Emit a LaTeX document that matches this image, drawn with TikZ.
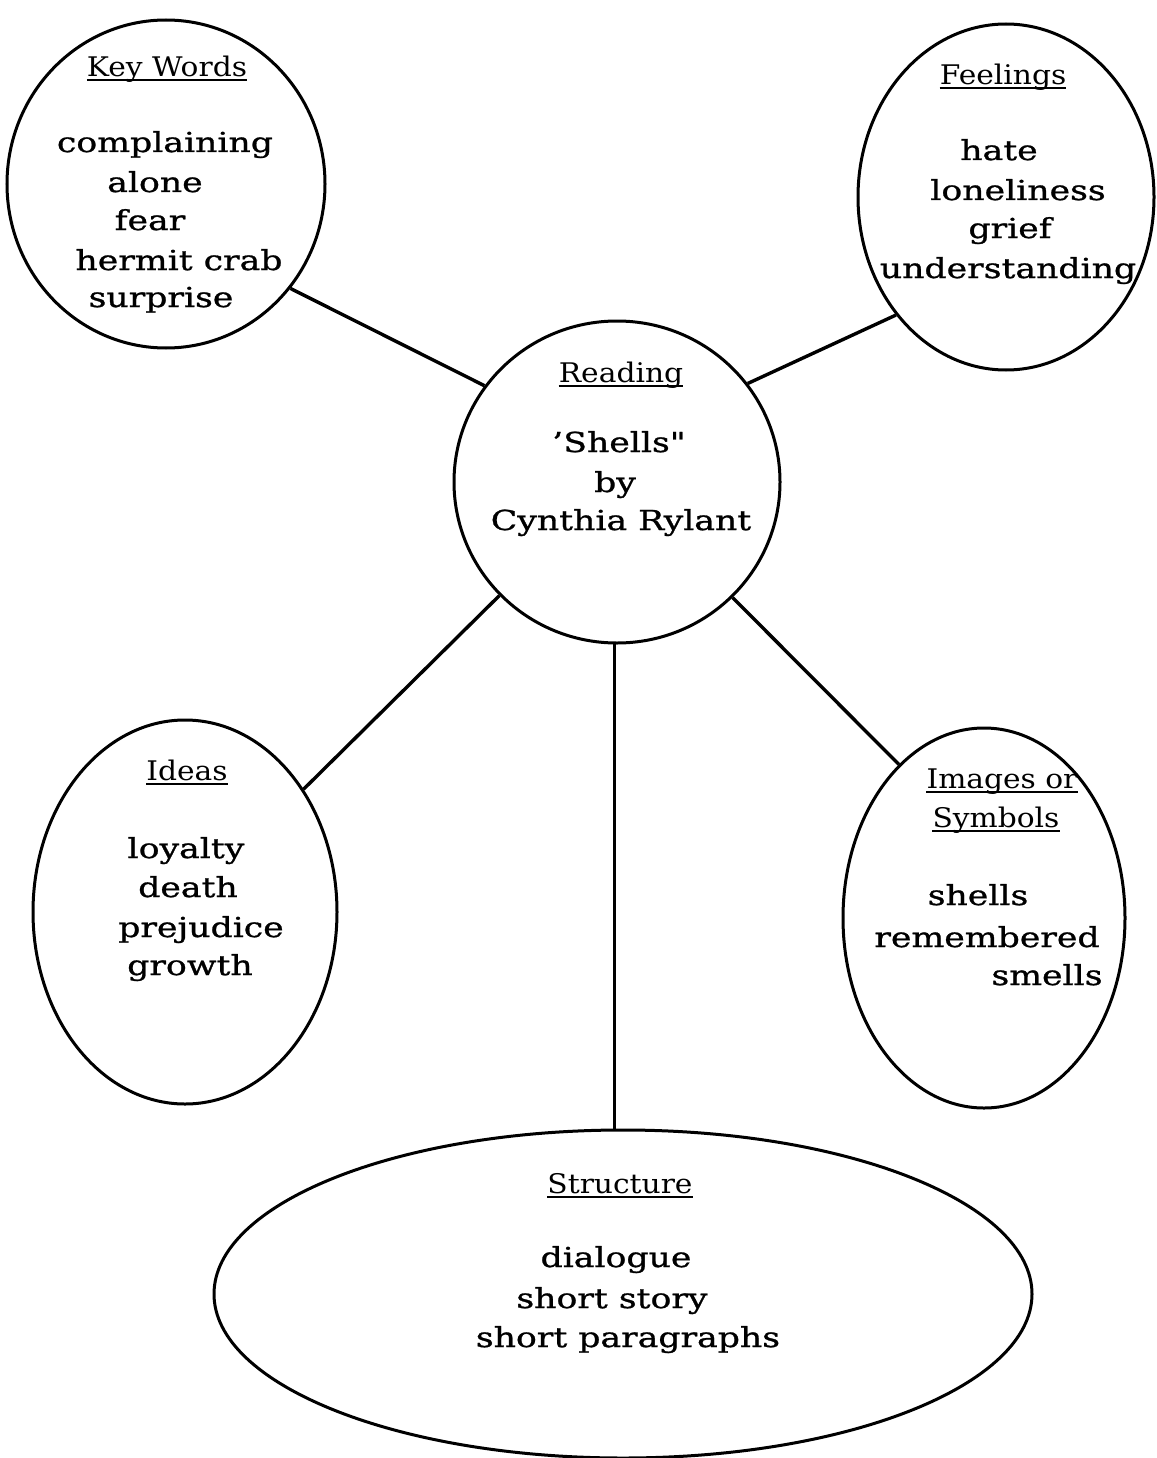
\documentclass[tikz,border=0pt]{standalone}
\usepackage{fontspec}
\newfontfamily\bodyfont[FakeStretch=1.26,FakeBold=1.0]{DejaVu Serif}
\newfontfamily\headfont[FakeStretch=1.1]{DejaVu Serif}
\usetikzlibrary{shapes.geometric}
\begin{document}
\begin{tikzpicture}[x=1pt,y=-1pt,
  bubble/.style={ellipse, draw, line width=3pt, inner sep=0pt},
  link/.style={line width=3.4pt},
  item/.style={anchor=base, inner sep=0pt, font=\bodyfont\fontsize{27.5}{30}\selectfont},
  head/.style={anchor=base, inner sep=0pt, font=\headfont\fontsize{27}{30}\selectfont},
  uline/.style={line width=2pt}]
\useasboundingbox (0,0) rectangle (1156,1458);

% the six bubbles
\node[bubble, minimum width=318, minimum height=328] (kw) at (166,184) {};
\node[bubble, minimum width=296, minimum height=346] (fe) at (1006,197) {};
\node[bubble, minimum width=326, minimum height=322] (rd) at (617,482) {};
\node[bubble, minimum width=304, minimum height=384] (id) at (185,912) {};
\node[bubble, minimum width=282, minimum height=380] (im) at (984,918) {};
\node[bubble, minimum width=818, minimum height=328] (st) at (623,1294) {};

% spokes from the centre bubble
\draw[link] (kw.-40) -- (rd.144);
\draw[link] (fe.-133) -- (rd.37);
\draw[link] (rd.-136) -- (id.46);
\draw[link] (rd.-45) -- (im.119);
\draw[link, line width=2.8pt] (rd.-91) -- (rd.-91 |- st.north);

% headings
\node[head] (hkw) at (167,77) {Key Words};
\node[head] (hfe) at (1003,85) {Feelings};
\node[head] (hrd) at (621,382) {Reading};
\node[head] (hid) at (187,780) {Ideas};
\node[head] (him) at (1002,788) {Images or};
\node[head] (hsy) at (996,827) {Symbols};
\node[head] (hst) at (620,1193) {Structure};
\foreach \h in {hkw,hfe,hrd,hid,him,hsy,hst}
  \draw[uline] ([yshift=-3.5pt]\h.base west) -- ([yshift=-3.5pt]\h.base east);

% Key Words
\node[item] (kw1) at (165,152) {complaining};
\node[item] (kw2) at (155,192) {alone};
\node[item] (kw3) at (150,230) {fear};
\node[item] (kw4) at (179,270) {hermit crab};
\node[item] (kw5) at (161,307) {surprise};

% Feelings
\node[item] (fe1) at (999,160) {hate};
\node[item] (fe2) at (1018,200) {loneliness};
\node[item] (fe3) at (1010,238) {grief};
\node[item] (fe4) at (1008,278) {understanding};

% Reading
\node[item] (rd1) at (619,452) {’Shells"};
\node[item] (rd2) at (615,492) {by};
\node[item] (rd3) at (621,530) {Cynthia Rylant};

% Ideas
\node[item] (id1) at (186,858) {loyalty};
\node[item] (id2) at (188,897) {death};
\node[item] (id3) at (201,937) {prejudice};
\node[item] (id4) at (190,975) {growth};

% Images or Symbols
\node[item] (im1) at (978,905) {shells};
\node[item] (im2) at (987,947) {remembered};
\node[item] (im3) at (1047,985) {smells};

% Structure
\node[item] (st1) at (616,1267) {dialogue};
\node[item] (st2) at (612,1308) {short story};
\node[item] (st3) at (628,1347) {short paragraphs};
\end{tikzpicture}
\end{document}
